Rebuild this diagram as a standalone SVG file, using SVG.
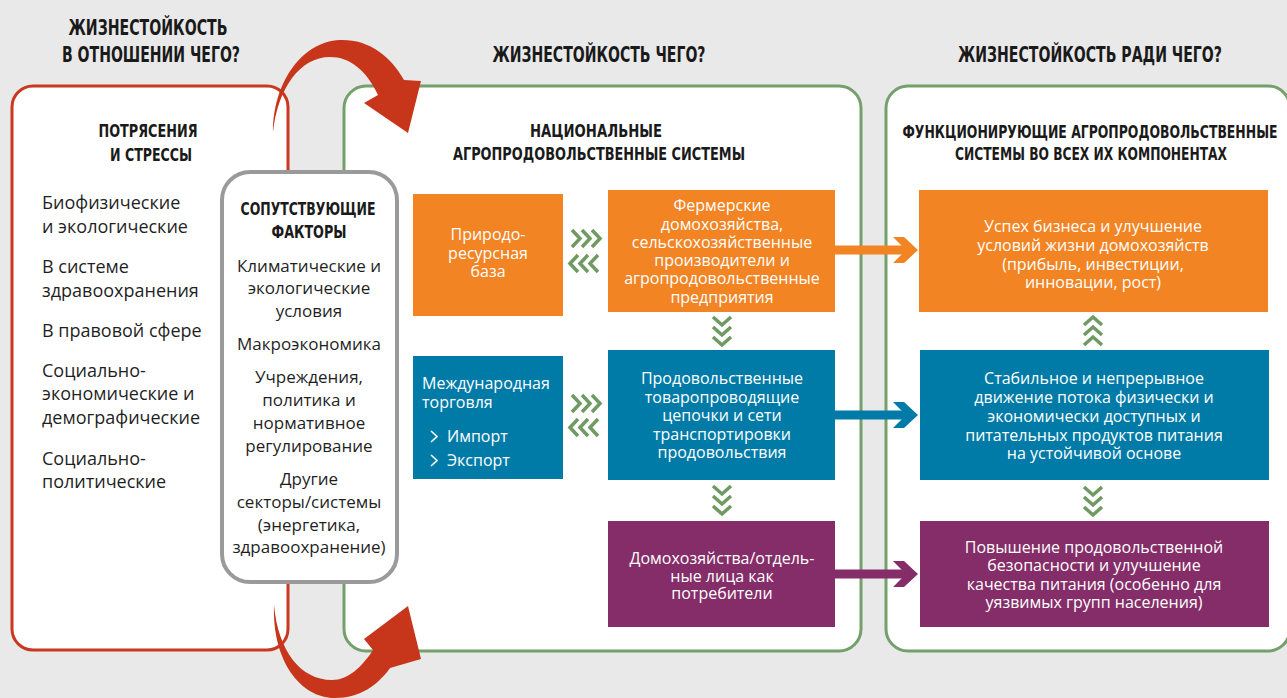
<svg xmlns="http://www.w3.org/2000/svg" width="1287" height="698" viewBox="0 0 1287 698">
<style>
.hd{font-family:"Liberation Sans Narrow","DejaVu Sans Condensed","Liberation Sans",sans-serif;font-weight:bold;font-size:21px;fill:#1a1a1a;text-anchor:middle}
.tt{font-family:"Liberation Sans Narrow","DejaVu Sans Condensed","Liberation Sans",sans-serif;font-weight:bold;font-size:18.5px;fill:#1a1a1a;text-anchor:middle}
.ls{font-family:"Open Sans","Noto Sans",sans-serif;font-size:18px;fill:#1f1f1f}
.gs{font-family:"Open Sans","Noto Sans",sans-serif;font-size:17px;fill:#1f1f1f;text-anchor:middle}
.bx{font-family:"Open Sans","Noto Sans",sans-serif;font-size:16px;fill:#ffffff;text-anchor:middle}
.bl{font-family:"Open Sans","Noto Sans",sans-serif;font-size:16px;fill:#ffffff}
.panelR{fill:#ffffff;stroke:#c9381f;stroke-width:3}
.panelG{fill:#ffffff;stroke:#73a06b;stroke-width:3}
.or{fill:#f28423}.bu{fill:#007ba8}.pu{fill:#842d68}
.chev{fill:none;stroke:#6f9a62;stroke-width:3.5}
.red{fill:#c7361b}
</style>
<defs>
<path id="chR" class="chev" d="M0,0 L8,8.5 L0,17 M10,0 L18,8.5 L10,17 M20,0 L28,8.5 L20,17"/>
<path id="chL" class="chev" d="M28,0 L20,8.5 L28,17 M18,0 L10,8.5 L18,17 M8,0 L0,8.5 L8,17"/>
<path id="chD" class="chev" d="M0,0 L9,8 L18,0 M0,10 L9,18 L18,10 M0,20 L9,28 L18,20"/>
<path id="chU" class="chev" d="M0,28 L9,20 L18,28 M0,18 L9,10 L18,18 M0,8 L9,0 L18,8"/>
</defs>
<rect x="0" y="0" width="1287" height="698" fill="#e9e9e9"/>

<g id="headers">
<text class="hd" x="148" y="35" textLength="159" lengthAdjust="spacingAndGlyphs">ЖИЗНЕСТОЙКОСТЬ</text>
<text class="hd" x="151" y="62" textLength="178" lengthAdjust="spacingAndGlyphs">В ОТНОШЕНИИ ЧЕГО?</text>
<text class="hd" x="599" y="62" textLength="213" lengthAdjust="spacingAndGlyphs">ЖИЗНЕСТОЙКОСТЬ ЧЕГО?</text>
<text class="hd" x="1090" y="62" textLength="264" lengthAdjust="spacingAndGlyphs">ЖИЗНЕСТОЙКОСТЬ РАДИ ЧЕГО?</text>
</g>

<g id="panel-shocks">
<rect class="panelR" x="12" y="86" width="276" height="564" rx="21"/>
<text class="tt" x="148" y="137" textLength="99" lengthAdjust="spacingAndGlyphs">ПОТРЯСЕНИЯ</text>
<text class="tt" x="151" y="161" textLength="82" lengthAdjust="spacingAndGlyphs">И СТРЕССЫ</text>
<text class="ls" x="42" y="209">Биофизические</text>
<text class="ls" x="42" y="233">и экологические</text>
<text class="ls" x="42" y="273">В системе</text>
<text class="ls" x="42" y="297">здравоохранения</text>
<text class="ls" x="42" y="337">В правовой сфере</text>
<text class="ls" x="42" y="377">Социально-</text>
<text class="ls" x="42" y="400">экономические и</text>
<text class="ls" x="42" y="424">демографические</text>
<text class="ls" x="42" y="465">Социально-</text>
<text class="ls" x="42" y="488">политические</text>
</g>

<g id="panel-national">
<rect class="panelG" x="344" y="86" width="517" height="565" rx="22"/>
<text class="tt" x="596" y="137" textLength="132" lengthAdjust="spacingAndGlyphs">НАЦИОНАЛЬНЫЕ</text>
<text class="tt" x="599" y="160" textLength="292" lengthAdjust="spacingAndGlyphs">АГРОПРОДОВОЛЬСТВЕННЫЕ СИСТЕМЫ</text>
</g>

<g id="panel-functioning">
<rect class="panelG" x="886" y="86" width="404" height="565" rx="22"/>
<text class="tt" x="1090" y="138" textLength="375" lengthAdjust="spacingAndGlyphs">ФУНКЦИОНИРУЮЩИЕ АГРОПРОДОВОЛЬСТВЕННЫЕ</text>
<text class="tt" x="1091" y="160" textLength="272" lengthAdjust="spacingAndGlyphs">СИСТЕМЫ ВО ВСЕХ ИХ КОМПОНЕНТАХ</text>
</g>

<g id="factors">
<rect x="222" y="172" width="175" height="410" rx="28" fill="#ffffff" stroke="#9a9a9a" stroke-width="4"/>
<text class="tt" x="308" y="215" textLength="135" lengthAdjust="spacingAndGlyphs">СОПУТСТВУЮЩИЕ</text>
<text class="tt" x="309" y="238" textLength="75" lengthAdjust="spacingAndGlyphs">ФАКТОРЫ</text>
<text class="gs" x="309" y="272">Климатические и</text>
<text class="gs" x="309" y="294">экологические</text>
<text class="gs" x="309" y="317">условия</text>
<text class="gs" x="309" y="350">Макроэкономика</text>
<text class="gs" x="309" y="383">Учреждения,</text>
<text class="gs" x="309" y="406">политика и</text>
<text class="gs" x="309" y="429">нормативное</text>
<text class="gs" x="309" y="452">регулирование</text>
<text class="gs" x="309" y="485">Другие</text>
<text class="gs" x="309" y="508">секторы/системы</text>
<text class="gs" x="309" y="531">(энергетика,</text>
<text class="gs" x="309" y="553">здравоохранение)</text>
</g>

<g id="natural-resources">
<rect class="or" x="413" y="194" width="150" height="122"/>
<text class="bx" x="488" y="240">Природо-</text>
<text class="bx" x="488" y="259">ресурсная</text>
<text class="bx" x="488" y="277">база</text>
</g>

<g id="trade">
<rect class="bu" x="413" y="356" width="150" height="123"/>
<text class="bl" x="422" y="389">Международная</text>
<text class="bl" x="422" y="408">торговля</text>
<path d="M431,431 L437,436.5 L431,442" fill="none" stroke="#ffffff" stroke-width="1.6"/>
<text class="bl" x="447" y="442">Импорт</text>
<path d="M431,455 L437,460.5 L431,466" fill="none" stroke="#ffffff" stroke-width="1.6"/>
<text class="bl" x="447" y="466">Экспорт</text>
</g>

<g id="farm-households">
<rect class="or" x="608" y="190" width="227" height="122"/>
<text class="bx" x="722" y="211">Фермерские</text>
<text class="bx" x="722" y="230">домохозяйства,</text>
<text class="bx" x="722" y="248">сельскохозяйственные</text>
<text class="bx" x="722" y="266">производители и</text>
<text class="bx" x="722" y="284">агропродовольственные</text>
<text class="bx" x="722" y="303">предприятия</text>
</g>

<g id="supply-chains">
<rect class="bu" x="608" y="350" width="227" height="130"/>
<text class="bx" x="722" y="384">Продовольственные</text>
<text class="bx" x="722" y="403">товаропроводящие</text>
<text class="bx" x="722" y="421">цепочки и сети</text>
<text class="bx" x="722" y="440">транспортировки</text>
<text class="bx" x="722" y="458">продовольствия</text>
</g>

<g id="consumers">
<rect class="pu" x="608" y="521" width="227" height="106"/>
<text class="bx" x="722" y="564">Домохозяйства/отдель-</text>
<text class="bx" x="722" y="582">ные лица как</text>
<text class="bx" x="722" y="599">потребители</text>
</g>

<g id="business-success">
<rect class="or" x="919" y="190" width="349" height="122"/>
<text class="bx" x="1093" y="232">Успех бизнеса и улучшение</text>
<text class="bx" x="1093" y="251">условий жизни домохозяйств</text>
<text class="bx" x="1093" y="270">(прибыль, инвестиции,</text>
<text class="bx" x="1093" y="288">инновации, рост)</text>
</g>

<g id="stable-flow">
<rect class="bu" x="920" y="350" width="349" height="130"/>
<text class="bx" x="1094" y="384">Стабильное и непрерывное</text>
<text class="bx" x="1094" y="403">движение потока физически и</text>
<text class="bx" x="1094" y="422">экономически доступных и</text>
<text class="bx" x="1094" y="441">питательных продуктов питания</text>
<text class="bx" x="1094" y="459">на устойчивой основе</text>
</g>

<g id="food-security">
<rect class="pu" x="920" y="521" width="349" height="106"/>
<text class="bx" x="1094" y="553">Повышение продовольственной</text>
<text class="bx" x="1094" y="571">безопасности и улучшение</text>
<text class="bx" x="1094" y="590">качества питания (особенно для</text>
<text class="bx" x="1094" y="608">уязвимых групп населения)</text>
</g>

<g id="connectors">
<use href="#chR" x="572" y="230"/>
<use href="#chL" x="570" y="255"/>
<use href="#chR" x="572" y="395"/>
<use href="#chL" x="570" y="419"/>
<use href="#chD" x="713" y="317"/>
<use href="#chD" x="713" y="486"/>
<use href="#chU" x="1084" y="317"/>
<use href="#chD" x="1084" y="487"/>
<line x1="835" y1="250" x2="908" y2="250" stroke="#f28423" stroke-width="9"/>
<polygon points="893,237 904,237 918,250 904,263 893,263 906,250" fill="#f28423"/>
<line x1="835" y1="415" x2="908" y2="415" stroke="#007ba8" stroke-width="9"/>
<polygon points="893,402 904,402 918,415 904,428 893,428 906,415" fill="#007ba8"/>
<line x1="835" y1="574" x2="908" y2="574" stroke="#842d68" stroke-width="9"/>
<polygon points="893,561 904,561 918,574 904,587 893,587 906,574" fill="#842d68"/>
<path class="red" d="M273,132 C273,85 300,42 340,40 C368,39 390,55 404,80 L421,81 L408,133 L364,103 L378,95 C366,70 350,57 330,57 C300,57 278,88 273,132 Z"/>
<path class="red" d="M274,605 C272,660 300,698 335,698 C360,698 378,685 390,668 L421,659 L408,606 L364,639 L373,650 C362,667 348,680 332,680 C300,680 278,650 274,605 Z"/>
</g>
</svg>
